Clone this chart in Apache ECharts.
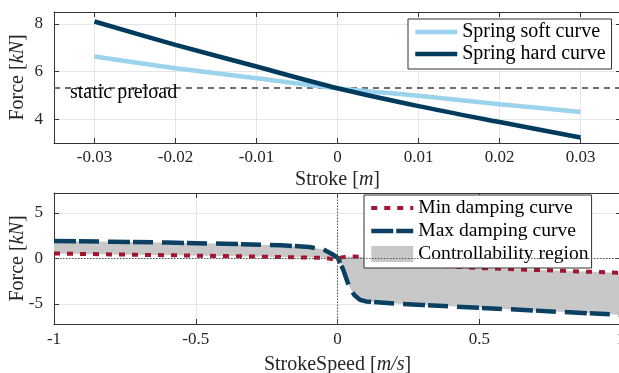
<!DOCTYPE html>
<html><head><meta charset="utf-8">
<script src="https://cdn.jsdelivr.net/npm/echarts@6/dist/echarts.min.js"></script>
<style>html,body{margin:0;padding:0;background:#fff}#c{width:619px;height:373px}</style>
</head><body><div id="c"></div>
<script>
// ---- Top plot data (spring curves) ----
const strokeX = [-0.03, -0.02, -0.01, 0, 0.01, 0.02, 0.03];
const springSoft = [6.63, 6.14, 5.72, 5.30, 4.98, 4.63, 4.30];
const springHard = [8.10, 7.12, 6.21, 5.30, 4.55, 3.88, 3.23];
const staticPreload = 5.3;
const strokeTicks = [-0.03, -0.02, -0.01, 0, 0.01, 0.02, 0.03];
const strokeTickLabels = ['-0.03', '-0.02', '-0.01', '0', '0.01', '0.02', '0.03'];
const forceTopTicks = [4, 6, 8];

// ---- Bottom plot data (damping curves) ----
const speedX = [-1, -0.8, -0.6, -0.4, -0.2, -0.1, -0.05, -0.02, 0, 0.02, 0.04, 0.06, 0.08, 0.1, 0.2, 0.3, 0.4, 0.5, 0.6, 0.8, 1];
const minDamping = [0.55, 0.45, 0.36, 0.27, 0.16, 0.10, 0.07, -0.05, 0.00, 0.15, 0.22, 0.22, 0.20, 0.15, -0.30, -0.65, -0.88, -1.05, -1.16, -1.36, -1.58];
const maxDamping = [1.93, 1.85, 1.75, 1.62, 1.46, 1.27, 1.00, 0.50, 0.10, -1.20, -3.00, -4.05, -4.55, -4.72, -4.95, -5.11, -5.26, -5.42, -5.57, -5.89, -6.20];
const speedTicks = [-1, -0.5, 0, 0.5, 1];
const speedTickLabels = ['-1', '-0.5', '0', '0.5', '1'];
const forceBottomTicks = [-5, 0, 5];

const FONT = 'Liberation Serif';
const AX = '#333333';
const TXT = '#262626';

function labelFor(ticks, labels) {
  return function (v) {
    const i = ticks.findIndex(t => Math.abs(t - v) < 1e-9);
    return i >= 0 ? labels[i] : '';
  };
}
function mainX(grid, min, max, ticks, labels, name, gap, margin) {
  return {
    type: 'value', gridIndex: grid, position: 'bottom', min: min, max: max,
    name: name, nameLocation: 'middle', nameGap: gap, nameMoveOverlap: false,
    nameTextStyle: { fontFamily: FONT, fontSize: 20, color: TXT, lineHeight: 20,
      rich: { i: { fontFamily: FONT, fontSize: 20, fontStyle: 'italic', color: TXT, lineHeight: 20 } } },
    axisLine: { show: true, onZero: false, lineStyle: { color: AX, width: 1 } },
    axisTick: { show: true, inside: true, length: 5, customValues: ticks, lineStyle: { color: AX } },
    axisLabel: { show: true, customValues: ticks, formatter: labelFor(ticks, labels), margin: margin,
      fontFamily: FONT, fontSize: 17, color: TXT, showMinLabel: true, showMaxLabel: true,
      alignMinLabel: 'center', alignMaxLabel: 'center', hideOverlap: false },
    splitLine: { show: true, lineStyle: { color: '#e6e6e6', width: 1 } }
  };
}
function topX(grid, min, max, ticks) {
  return {
    type: 'value', gridIndex: grid, position: 'top', min: min, max: max,
    axisLine: { show: true, onZero: false, lineStyle: { color: AX, width: 1 } },
    axisTick: { show: true, inside: true, length: 5, customValues: ticks, lineStyle: { color: AX } },
    axisLabel: { show: false }, splitLine: { show: false }
  };
}
function leftY(grid, min, max, ticks, name) {
  return {
    type: 'value', gridIndex: grid, position: 'left', min: min, max: max,
    name: name, nameLocation: 'middle', nameGap: 26, nameRotate: 90, nameMoveOverlap: false,
    nameTextStyle: { fontFamily: FONT, fontSize: 20, color: TXT, lineHeight: 20,
      rich: { i: { fontFamily: FONT, fontSize: 20, fontStyle: 'italic', color: TXT, lineHeight: 20 } } },
    axisLine: { show: true, onZero: false, lineStyle: { color: AX, width: 1 } },
    axisTick: { show: true, inside: true, length: 5, customValues: ticks, lineStyle: { color: AX } },
    axisLabel: { show: true, customValues: ticks, margin: 11, fontFamily: FONT, fontSize: 17, color: TXT },
    splitLine: { show: true, lineStyle: { color: '#e6e6e6', width: 1 } }
  };
}
function rightY(grid, min, max, ticks) {
  return {
    type: 'value', gridIndex: grid, position: 'right', min: min, max: max,
    axisLine: { show: true, onZero: false, lineStyle: { color: AX, width: 1 } },
    axisTick: { show: true, inside: true, length: 5, customValues: ticks, lineStyle: { color: AX } },
    axisLabel: { show: false }, splitLine: { show: false }
  };
}
const hiddenSymbol = { color: 'rgba(0,0,0,0)', borderWidth: 0, opacity: 0 };

const chart = echarts.init(document.getElementById('c'), null, { renderer: 'canvas' });
chart.setOption({
  animation: false,
  backgroundColor: '#ffffff',
  grid: [
    { left: 54, right: -2, top: 12, height: 131, outerBoundsMode: 'none', containLabel: false },
    { left: 54, right: -2, top: 193, height: 131, outerBoundsMode: 'none', containLabel: false }
  ],
  xAxis: [
    mainX(0, -0.035, 0.035, strokeTicks, strokeTickLabels, 'Stroke [{i|m}]', 27, 6),
    topX(0, -0.035, 0.035, strokeTicks),
    mainX(1, -1, 1, speedTicks, speedTickLabels, 'StrokeSpeed [{i|m/s}]', 31, 7),
    topX(1, -1, 1, speedTicks)
  ],
  yAxis: [
    leftY(0, 3, 8.5, forceTopTicks, 'Force [{i|kN}]'),
    rightY(0, 3, 8.5, forceTopTicks),
    leftY(1, -7.2, 7.2, forceBottomTicks, 'Force [{i|kN}]'),
    rightY(1, -7.2, 7.2, forceBottomTicks)
  ],
  legend: [
    {
      left: 408, top: 19, orient: 'vertical', padding: [3, 6, 5, 5], itemGap: 2,
      itemWidth: 42, itemHeight: 12, backgroundColor: '#fff', borderColor: AX, borderWidth: 1, borderRadius: 0,
      textStyle: { fontFamily: FONT, fontSize: 20, color: '#000', lineHeight: 20 },
      lineStyle: { width: 'inherit', type: 'inherit' },
      itemStyle: hiddenSymbol,
      data: ['Spring soft curve', 'Spring hard curve'], selectedMode: false
    },
    {
      left: 364, top: 195, orient: 'vertical', padding: [3, 3, 4, 5], itemGap: 3,
      itemWidth: 42, itemHeight: 16, backgroundColor: '#fff', borderColor: AX, borderWidth: 1, borderRadius: 0,
      textStyle: { fontFamily: FONT, fontSize: 19.6, color: '#000', lineHeight: 20 },
      lineStyle: { width: 'inherit', type: 'inherit' },
      itemStyle: hiddenSymbol,
      data: ['Min damping curve', 'Max damping curve',
        { name: 'Controllability region', icon: 'rect', itemStyle: { color: '#c8c8c8', opacity: 1, borderWidth: 0 } }],
      selectedMode: false
    }
  ],
  series: [
    {
      name: 'Spring soft curve', type: 'line', xAxisIndex: 0, yAxisIndex: 0, symbol: 'none', smooth: 0.3,
      color: '#9bd3ed', lineStyle: { color: '#9bd3ed', width: 4.5 },
      data: strokeX.map((x, i) => [x, springSoft[i]]),
      markLine: {
        z: 1, silent: true, symbol: 'none',
        lineStyle: { color: '#6e6e6e', width: 2, type: [6, 5] },
        label: { show: false },
        data: [{ yAxis: staticPreload }]
      },
      markPoint: {
        silent: true, symbol: 'circle', symbolSize: 0,
        label: { show: true, position: 'right', distance: 0, offset: [16, 5], formatter: 'static preload',
          fontFamily: FONT, fontSize: 20, color: '#000' },
        data: [{ coord: [-0.035, staticPreload] }]
      },
      z: 2
    },
    {
      name: 'Spring hard curve', type: 'line', xAxisIndex: 0, yAxisIndex: 0, symbol: 'none', smooth: 0.3,
      color: '#003b5e', lineStyle: { color: '#003b5e', width: 4.5 },
      data: strokeX.map((x, i) => [x, springHard[i]]), z: 3
    },
    {
      name: 'Controllability region', type: 'custom', xAxisIndex: 2, yAxisIndex: 2,
      color: '#c8c8c8', itemStyle: { color: '#c8c8c8' },
      data: speedX.map((x, i) => [x, minDamping[i], maxDamping[i]]),
      encode: { x: 0, y: [1, 2] },
      renderItem: function (params, api) {
        if (params.dataIndex !== 0) return null;
        const up = speedX.map((x, i) => api.coord([x, minDamping[i]]));
        const lo = speedX.map((x, i) => api.coord([x, maxDamping[i]])).reverse();
        return { type: 'polygon', shape: { points: up.concat(lo) }, style: { fill: '#c8c8c8' } };
      },
      markLine: {
        z: 5, silent: true, symbol: 'none',
        lineStyle: { color: '#555', width: 1, type: [1.5, 1.5] },
        label: { show: false },
        data: [{ xAxis: 0 }, { yAxis: 0 }]
      },
      z: 1
    },
    {
      name: 'Min damping curve', type: 'line', xAxisIndex: 2, yAxisIndex: 2, symbol: 'none',
      color: '#a3142f', lineStyle: { color: '#a3142f', width: 4, type: [6, 7], cap: 'butt' },
      data: speedX.map((x, i) => [x, minDamping[i]]), z: 3
    },
    {
      name: 'Max damping curve', type: 'line', xAxisIndex: 2, yAxisIndex: 2, symbol: 'none',
      color: '#0b4063', lineStyle: { color: '#0b4063', width: 4.5, type: [22, 3, 20, 9], cap: 'butt' },
      data: speedX.map((x, i) => [x, maxDamping[i]]), z: 4
    }
  ]
});
</script>
</body></html>
